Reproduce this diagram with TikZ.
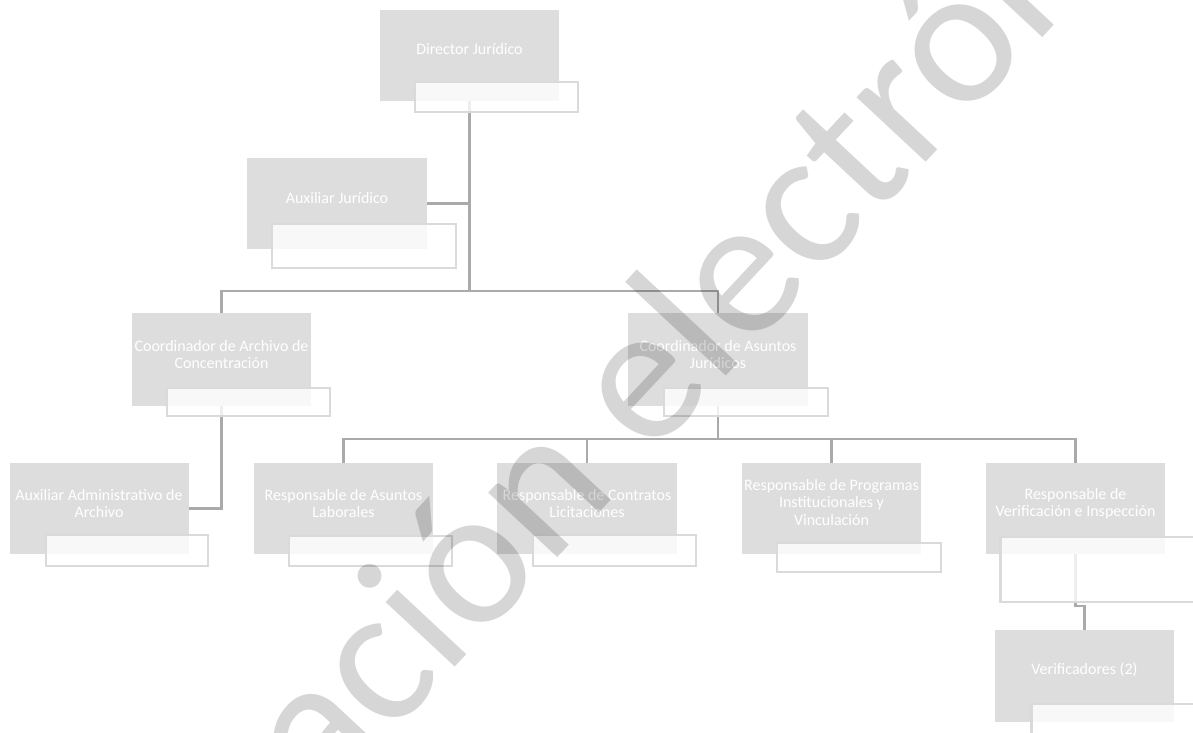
\documentclass[tikz,border=0pt]{standalone}
\usepackage{fontspec}
\setmainfont{Carlito}
\usetikzlibrary{calc}

\definecolor{boxgray}{RGB}{221,221,221}
\definecolor{tagedge}{RGB}{218,218,218}
\definecolor{linkgray}{RGB}{170,170,170}
\definecolor{wmgray}{RGB}{214,214,214}

\tikzset{
  role/.style={rectangle, fill=boxgray, inner sep=0pt, minimum width=179pt, minimum height=91pt},
  tagbox/.style={rectangle, draw=tagedge, line width=2.6pt, fill=white, fill opacity=0.8, inner sep=0pt},
  lbl/.style={text=white, align=center, inner sep=0pt, font=\fontsize{16}{17.5}\selectfont},
  link/.style={draw=linkgray, line width=2.6pt},
  wm/.style={text=wmgray, inner sep=0pt, font=\fontsize{198}{200}\selectfont},
}

\begin{document}
\begin{tikzpicture}[x=1pt, y=-1pt]
  \path[fill=white, use as bounding box] (0,0) rectangle (1193,732);

  % position boxes
  \node[role] (dir)   at (469.5,55.5) {};
  \node[role, minimum width=180pt] (aux) at (337,203.5) {};
  \node[role, minimum height=93pt] (carch) at (221.5,359.5) {};
  \node[role, minimum width=180pt, minimum height=93pt] (casun) at (718,359.5) {};
  \node[role] (aadm)  at (99,508.5) {};
  \node[role] (rlab)  at (343.5,508.5) {};
  \node[role, minimum width=180pt] (rcon)  at (587,508.5) {};
  \node[role] (rprog) at (831.5,508.5) {};
  \node[role] (rver)  at (1075.5,508.5) {};
  \node[role, minimum height=92pt] (verif) at (1084.5,676) {};

  % titles
  \node[lbl] (dirL)   at (469.5,49) {Director Jurídico};
  \node[lbl] (auxL)   at (337,198) {Auxiliar Jurídico};
  \node[lbl] (carchL) at (221.5,354.5) {Coordinador de Archivo de\\Concentración};
  \node[lbl] (casunL) at (718,354.5) {Coordinador de Asuntos\\Jurídicos};
  \node[lbl] (aadmL)  at (99,503.5) {Auxiliar Administrativo de\\Archivo};
  \node[lbl] (rlabL)  at (343.5,503.5) {Responsable de Asuntos\\Laborales};
  \node[lbl] (rconL)  at (587,503.5) {Responsable de Contratos\\Licitaciones};
  \node[lbl] (rprogL) at (831.5,502) {Responsable de Programas\\Institucionales y\\Vinculación};
  \node[lbl] (rverL)  at (1075.5,503.5) {Responsable de\\Verificación e Inspección};
  \node[lbl] (verifL) at (1084.5,670) {Verificadores (2)};

  % reporting lines
  \coordinate (j1) at (469.5,291);
  \coordinate (j2) at (718,439);
  \coordinate (j3) at (1075.5,606);
  \draw[link] (dir.south) -- (j1);
  \draw[link] (aux.east) -- (aux.east -| j1);
  \draw[link] (carch.north) |- (j1) -| (casun.north);
  \draw[link] (casun.south) -- (j2);
  \draw[link] (rlab.north) |- (j2) -| (rver.north);
  \draw[link] (rcon.north) -- (rcon.north |- j2);
  \draw[link] (rprog.north) -- (rprog.north |- j2);
  \draw[link] (carch.south) |- (aadm.east);
  \draw[link] (rver.south) -- (j3) -| (verif.north);

  % name plates
  \node[tagbox, minimum width=163pt, minimum height=30pt] (dirT)   at (496.5,97) {};
  \node[tagbox, minimum width=184pt, minimum height=44pt] (auxT)   at (364,246) {};
  \node[tagbox, minimum width=163pt, minimum height=28pt] (carchT) at (248.5,402) {};
  \node[tagbox, minimum width=164pt, minimum height=28pt] (casunT) at (746,402) {};
  \node[tagbox, minimum width=162pt, minimum height=31pt] (aadmT)  at (127,550.5) {};
  \node[tagbox, minimum width=163pt, minimum height=30pt] (rlabT)  at (370.5,551) {};
  \node[tagbox, minimum width=163pt, minimum height=31pt] (rconT)  at (614.5,550.5) {};
  \node[tagbox, minimum width=164pt, minimum height=29pt] (rprogT) at (859,557.5) {};
  \node[tagbox, minimum width=199pt, minimum height=65pt] (rverT)  at (1100,569.5) {};
  \node[tagbox, minimum width=177pt, minimum height=40pt] (verifT) at (1120,724) {};

  % watermark
  \begin{scope}[blend mode=multiply]
    \clip (0,0) rectangle (1193,732);
    \node[wm, rotate=47, anchor=base west] (wmark) at (324,808) {ación electrónica};
  \end{scope}
\end{tikzpicture}
\end{document}
